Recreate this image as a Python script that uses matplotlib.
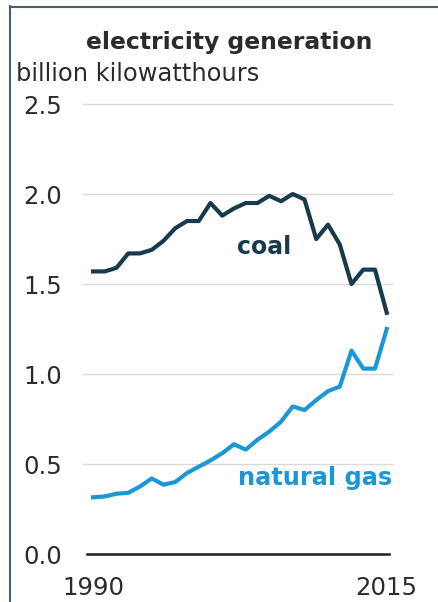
import matplotlib.pyplot as plt
from matplotlib.lines import Line2D

# values
years = list(range(1990, 2016))
coal = [1.57, 1.57, 1.59, 1.67, 1.67, 1.69, 1.74, 1.81, 1.85, 1.85,
        1.95, 1.88, 1.92, 1.95, 1.95, 1.99, 1.96, 2.00, 1.97, 1.75,
        1.83, 1.72, 1.50, 1.58, 1.58, 1.34]
gas = [0.315, 0.32, 0.335, 0.34, 0.375, 0.42, 0.385, 0.40, 0.45, 0.485,
       0.52, 0.56, 0.61, 0.58, 0.635, 0.68, 0.735, 0.82, 0.80, 0.855,
       0.905, 0.93, 1.13, 1.03, 1.03, 1.25]
yticks = [0.0, 0.5, 1.0, 1.5, 2.0, 2.5]
xticks = [1990, 2015]

coal_color = "#173a4d"
gas_color = "#1b98d3"
text_color = "#2b2b2b"

plt.rcParams['font.family'] = ['DejaVu Sans']

fig = plt.figure(figsize=(4.39, 6.02), dpi=100)
ax = fig.add_axes([0.1891, 0.0797, 0.7039, 0.7475])

ax.plot(years, coal, color=coal_color, lw=3.0, solid_joinstyle='round')
ax.plot(years, gas, color=gas_color, lw=3.0, solid_joinstyle='round')

ax.set_xlim(1989.15, 2015.45)
ax.set_ylim(0, 2.5)
ax.set_yticks(yticks)
ax.set_yticklabels([f"{v:.1f}" for v in yticks])
ax.set_xticks(xticks)
ax.set_xticklabels([str(v) for v in xticks])
ax.tick_params(axis='y', length=0, pad=15, labelsize=17.6, labelcolor=text_color)
ax.tick_params(axis='x', length=0, pad=16, labelsize=17.6, labelcolor=text_color)

for v in yticks[1:]:
    ax.axhline(v, color="#d9d9d9", lw=1.0, zorder=0, clip_on=False)
ax.axhline(0, color="#1e1e1e", lw=1.8, zorder=1, clip_on=False,
           xmin=0.013, xmax=0.99)

for s in ax.spines.values():
    s.set_visible(False)

ax.text(2004.6, 1.665, "coal", color=coal_color, fontsize=17, fontweight='bold',
        ha='center', va='baseline')
ax.text(2015.5, 0.385, "natural gas", color=gas_color, fontsize=17.3,
        fontweight='bold', ha='right', va='baseline')

fig.text(229.5 / 439, (602 - 48.5) / 602, "electricity generation", ha='center',
         va='baseline', fontsize=16.9, fontweight='bold', color=text_color)
fig.text(16 / 439, (602 - 81) / 602, "billion kilowatthours", ha='left',
         va='baseline', fontsize=17.4, color=text_color)

# frame lines on the left and top
fig.add_artist(Line2D([10.5 / 439, 10.5 / 439], [0, (602 - 6) / 602],
                      transform=fig.transFigure, color="#4b5d73", lw=1.5))
fig.add_artist(Line2D([10.5 / 439, 1], [(602 - 6.5) / 602, (602 - 6.5) / 602],
                      transform=fig.transFigure, color="#4b5d73", lw=1.5))

fig.savefig("out.png", dpi=100, facecolor="white")
